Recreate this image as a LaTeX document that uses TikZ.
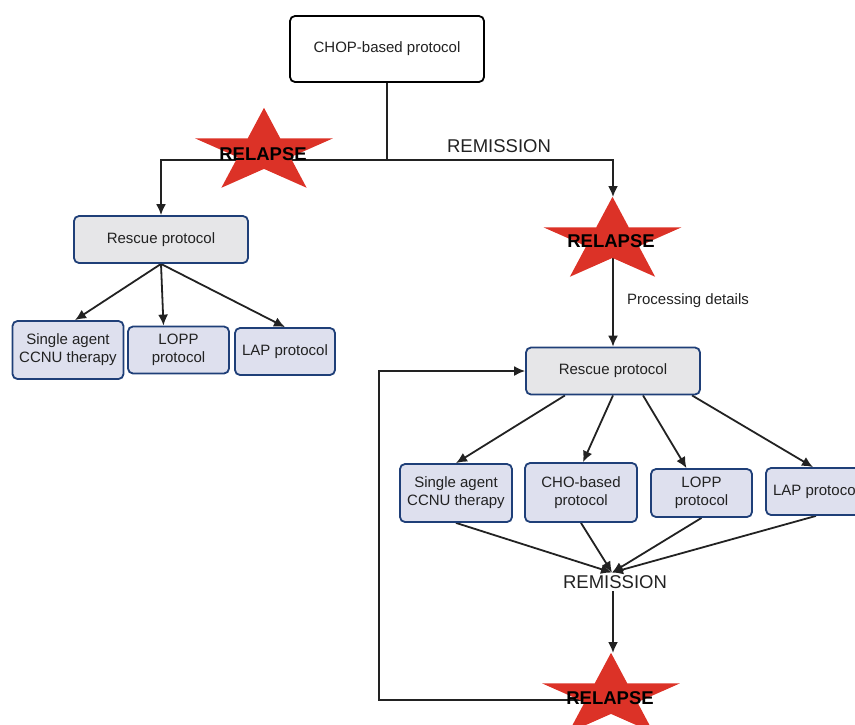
\documentclass[tikz,border=0pt]{standalone}
\usepackage{fontspec}
\setmainfont{Liberation Sans}
\usepackage{tikz}
\usetikzlibrary{positioning,arrows.meta,backgrounds}
\definecolor{relred}{HTML}{DC3227}
\definecolor{boxblue}{HTML}{1F3F78}
\definecolor{lavfill}{HTML}{DEE0EE}
\definecolor{grayfill}{HTML}{E6E6E8}
\definecolor{ink}{HTML}{222222}

\begin{document}
\begin{tikzpicture}[x=1pt, y=-1pt, line width=1.8pt, >={Latex[length=11pt,width=10pt]},
mainnode/.style = {draw=black, fill=white, rounded corners=5pt, minimum width=194pt, minimum height=66pt},
rescuenode/.style={draw=boxblue, fill=grayfill, rounded corners=5pt, minimum width=174pt, minimum height=47pt},
drugnode/.style={draw=boxblue, fill=lavfill, rounded corners=5pt, minimum height=47pt, align=center, inner sep=2pt},
relapsetext/.style={font=\fontsize{18.5}{20}\selectfont\bfseries, text=black, inner sep=1pt},
outcome/.style={font=\fontsize{18.5}{20}\selectfont, inner sep=2pt},
link/.style={draw=ink, line width=1.8pt},
relstar/.pic={\fill[relred] (270:1) -- (306:.382) -- (342:1) -- (18:.382) -- (54:1) -- (90:.382)
  -- (126:1) -- (162:.382) -- (198:1) -- (234:.382) -- cycle;}]
\tikzstyle{every node}=[font=\fontsize{15}{18}\selectfont, text=ink]
\useasboundingbox (0,0) rectangle (855,724);
\clip (0,0) rectangle (855,724);

% top of the tree
\node[mainnode] (chop) at (387,49) {CHOP-based protocol};
\coordinate (split) at (387,160);
\node[outcome] (rem1) at (499,146) {REMISSION};

% first relapse
\pic[xscale=72.5, yscale=44.2] at (264,152) {relstar};
\node[relapsetext] (rel1) at (263,154) {RELAPSE};
\node[rescuenode] (resc1) at (161,239.5) {Rescue protocol};
\node[drugnode, minimum width=111pt, minimum height=58pt] (single1) at (68,350) {Single agent\\CCNU therapy};
\node[drugnode, minimum width=101pt] (lopp1) at (178.5,350) {LOPP\\protocol};
\node[drugnode, minimum width=100pt] (lap1) at (285,351.5) {LAP protocol};

% relapse after remission
\pic[xscale=72.5, yscale=44.2] at (612.5,241) {relstar};
\coordinate (star2top) at (613,197);
\node[relapsetext] (rel2) at (611,241) {RELAPSE};
\node (proc) at (688,301) {Processing details};
\node[rescuenode] (resc2) at (613,371) {Rescue protocol};
\node[drugnode, minimum width=112pt, minimum height=58pt] (single2) at (456,493) {Single agent\\CCNU therapy};
\node[drugnode, minimum width=112pt, minimum height=59pt] (cho2) at (581,492.5) {CHO-based\\protocol};
\node[drugnode, minimum width=101pt, minimum height=48pt] (lopp2) at (701.5,493) {LOPP\\protocol};
\node[drugnode, minimum width=100pt] (lap2) at (816,491.5) {LAP protocol};
\node[outcome] (rem2) at (615,582) {REMISSION};

% last relapse
\pic[xscale=72.5, yscale=44.2] at (611,697) {relstar};
\coordinate (star3top) at (613,653);
\coordinate (loop) at (379,700);
\node[relapsetext] (rel3) at (610,698) {RELAPSE};

\begin{scope}[on background layer]
\begin{scope}[link]
\draw (chop) -- (split);
\draw[->] (split) -| (resc1);
\draw[->] (split) -| (star2top);
\draw[->] (resc1.south) -- ([xshift=7pt]single1.north);
\draw[->] (resc1.south) -- ([xshift=-15pt]lopp1.north);
\draw[->] (resc1.south) -- (lap1.north);
\draw[->] (rel2.south -| resc2.north) -- (resc2.north);
\draw[->] ([xshift=-48pt]resc2.south) -- (single2.north);
\draw[->] (resc2.south) -- ([xshift=2pt]cho2.north);
\draw[->] ([xshift=30pt]resc2.south) -- ([xshift=-15pt]lopp2.north);
\draw[->] ([xshift=79pt]resc2.south) -- ([xshift=-3pt]lap2.north);
\draw[->] (single2.south) -- ([xshift=-3pt]rem2.north);
\draw[->] (cho2.south) -- ([xshift=-3pt]rem2.north);
\draw[->] (lopp2.south) -- ([xshift=-3pt]rem2.north);
\draw[->] (lap2.south) -- ([xshift=-3pt]rem2.north);
\draw[->] (rem2.south -| star3top) -- (star3top);
\draw[->] (rel3.center |- loop) -- (loop) |- (resc2.west);
\end{scope}
\end{scope}
\end{tikzpicture}
\end{document}
